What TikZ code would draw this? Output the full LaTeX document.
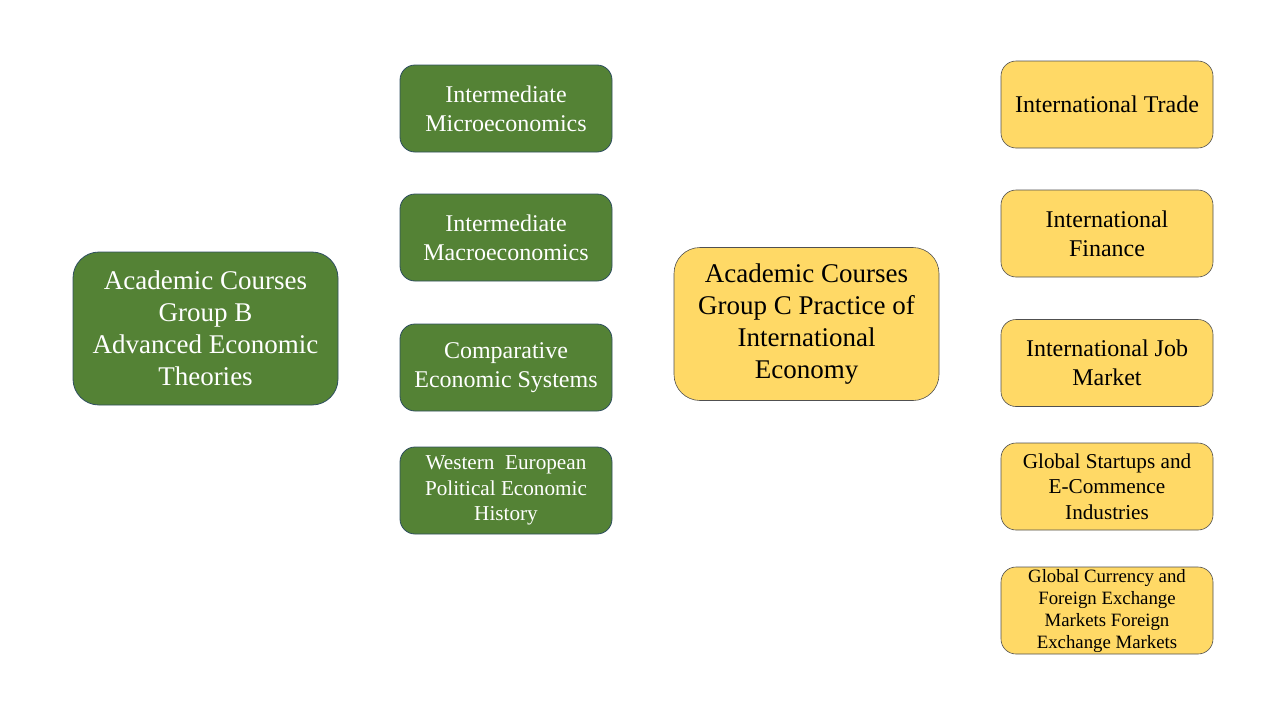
\documentclass[tikz,border=0pt]{standalone}
\usepackage{fontspec}
\setmainfont{Liberation Serif}
\definecolor{grn}{HTML}{548235}
\definecolor{grnb}{HTML}{2F4F5F}
\definecolor{ylw}{HTML}{FFD966}
\definecolor{ylwb}{HTML}{505050}
\begin{document}
\begin{tikzpicture}[x=1pt,y=-1pt,
  gbox/.style={draw=grnb,fill=grn,text=white,line width=0.8pt,rounded corners=15pt,align=center,inner sep=0pt},
  ybox/.style={draw=ylwb,fill=ylw,text=black,line width=0.6pt,rounded corners=15pt,align=center,inner sep=0pt},
  big/.style={minimum width=265pt,minimum height=153pt,rounded corners=26pt,font=\fontsize{27}{32}\selectfont},
  small/.style={minimum width=212pt,minimum height=87pt,font=\fontsize{24}{29}\selectfont},
  smaller/.style={font=\fontsize{21.2}{25.5}\selectfont},
  tiny/.style={font=\fontsize{18.8}{22}\selectfont}]
\useasboundingbox (0,0) rectangle (1280,720);
\node[gbox,big] (b) at (205.5,328.5) {Academic Courses\\Group B\\Advanced Economic\\Theories};
\node[gbox,small] (b1) at (506,108.5) {Intermediate\\Microeconomics};
\node[gbox,small] (b2) at (506,237.5) {Intermediate\\Macroeconomics};
\node[gbox,small] (b3) at (506,367.5) {Comparative\\Economic Systems};
\node[gbox,small,smaller] (b4) at (506,490.5) {Western\ \ European\\Political Economic\\History};
\node[ybox,big] (c) at (806.5,324) {Academic Courses\\Group C Practice of\\International\\Economy};
\node[ybox,small] (c1) at (1107,104.5) {International Trade};
\node[ybox,small] (c2) at (1107,233.5) {International\\Finance};
\node[ybox,small] (c3) at (1107,363) {International Job\\Market};
\node[ybox,small,smaller] (c4) at (1107,486.5) {Global Startups and\\E-Commence\\Industries};
\node[ybox,small,tiny] (c5) at (1107,610.5) {Global Currency and\\Foreign Exchange\\Markets Foreign\\Exchange Markets};
\end{tikzpicture}
\end{document}
